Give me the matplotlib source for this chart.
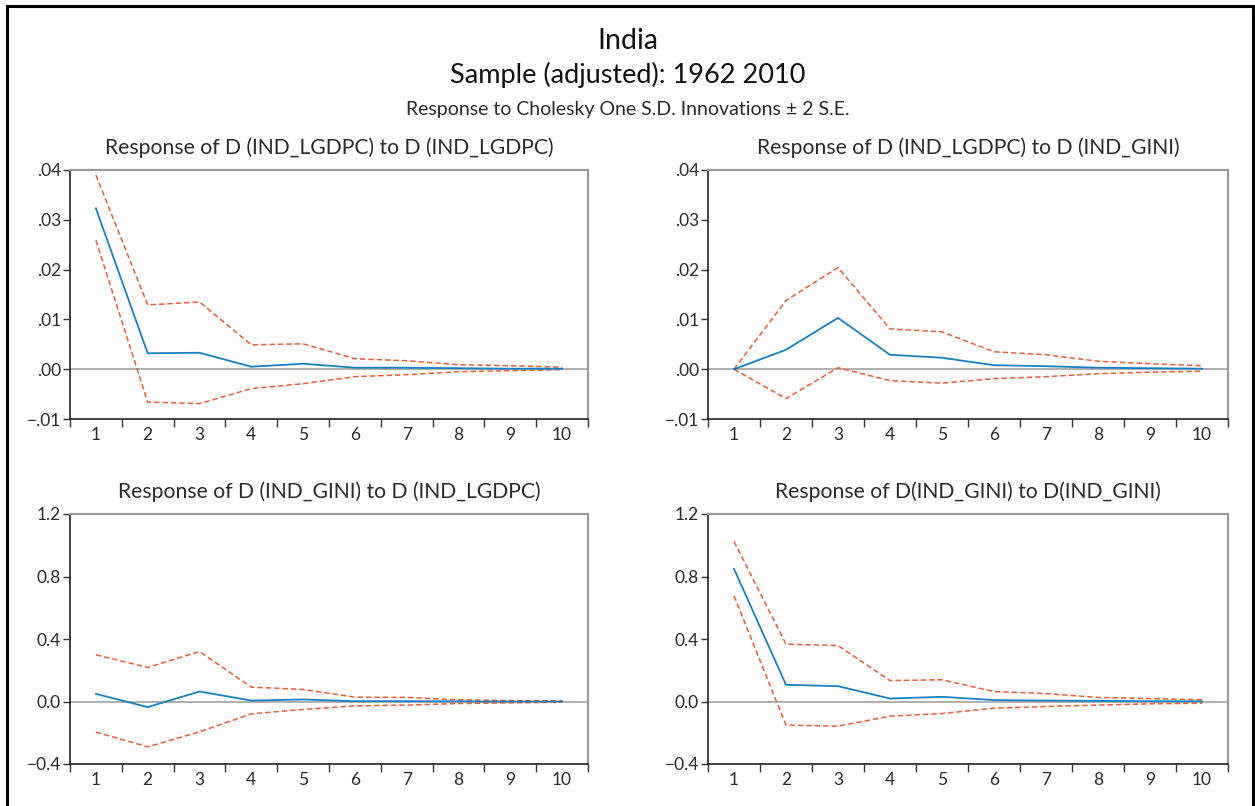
import matplotlib
matplotlib.use("Agg")
import matplotlib.pyplot as plt
from matplotlib.patches import Rectangle
from matplotlib.ticker import FixedLocator, FixedFormatter

plt.rcParams['font.family'] = ['Lato', 'DejaVu Sans']

periods = [1, 2, 3, 4, 5, 6, 7, 8, 9, 10]

# Panel 1: Response of D(IND_LGDPC) to D(IND_LGDPC)
p1_resp = [0.0323, 0.0032, 0.0033, 0.0005, 0.0011, 0.0003, 0.0003, 0.0002, 0.0001, 0.0001]
p1_upper = [0.0390, 0.0129, 0.0135, 0.0049, 0.0051, 0.0021, 0.0017, 0.0009, 0.0007, 0.0004]
p1_lower = [0.0259, -0.0066, -0.0069, -0.0039, -0.0029, -0.0015, -0.0011, -0.0005, -0.0003, -0.0001]

# Panel 2: Response of D(IND_LGDPC) to D(IND_GINI)
p2_resp = [0.0, 0.0039, 0.0103, 0.0029, 0.0023, 0.0008, 0.0006, 0.0003, 0.0002, 0.0001]
p2_upper = [0.0, 0.0138, 0.0204, 0.0081, 0.0075, 0.0035, 0.0029, 0.0016, 0.0011, 0.0007]
p2_lower = [0.0, -0.0059, 0.0003, -0.0023, -0.0028, -0.0019, -0.0015, -0.0009, -0.0006, -0.0004]

# Panel 3: Response of D(IND_GINI) to D(IND_LGDPC)
p3_resp = [0.049, -0.036, 0.064, 0.006, 0.013, 0.002, 0.002, 0.001, 0.0, 0.0]
p3_upper = [0.299, 0.218, 0.320, 0.092, 0.077, 0.028, 0.026, 0.011, 0.006, 0.004]
p3_lower = [-0.196, -0.290, -0.194, -0.079, -0.051, -0.028, -0.023, -0.013, -0.009, -0.004]

# Panel 4: Response of D(IND_GINI) to D(IND_GINI)
p4_resp = [0.849, 0.107, 0.098, 0.019, 0.030, 0.009, 0.006, 0.004, 0.002, 0.001]
p4_upper = [1.024, 0.367, 0.358, 0.134, 0.139, 0.064, 0.051, 0.026, 0.019, 0.011]
p4_lower = [0.676, -0.151, -0.158, -0.094, -0.077, -0.043, -0.032, -0.023, -0.015, -0.011]

titles = [
    "Response of D (IND_LGDPC) to D (IND_LGDPC)",
    "Response of D (IND_LGDPC) to D (IND_GINI)",
    "Response of D (IND_GINI) to D (IND_LGDPC)",
    "Response of D(IND_GINI) to D(IND_GINI)",
]

yticks_top = [-0.01, 0.00, 0.01, 0.02, 0.03, 0.04]
ylabels_top = ["\u2212.01", ".00", ".01", ".02", ".03", ".04"]
yticks_bot = [-0.4, 0.0, 0.4, 0.8, 1.2]
ylabels_bot = ["\u22120.4", "0.0", "0.4", "0.8", "1.2"]

W, H = 1255, 806
fig = plt.figure(figsize=(W / 100, H / 100), dpi=100)

BLUE = "#1580c4"
RED = "#f05a32"
GRAY = "#9a9a9a"
TXT = "#2a2a2a"

def px_axes(l, r, t, b):
    return fig.add_axes([l / W, 1 - b / H, (r - l) / W, (b - t) / H])

boxes = [
    (70, 588, 170, 419),
    (708, 1228, 170, 419),
    (70, 588, 514, 764),
    (708, 1228, 514, 764),
]
data = [
    (p1_resp, p1_upper, p1_lower, yticks_top, ylabels_top),
    (p2_resp, p2_upper, p2_lower, yticks_top, ylabels_top),
    (p3_resp, p3_upper, p3_lower, yticks_bot, ylabels_bot),
    (p4_resp, p4_upper, p4_lower, yticks_bot, ylabels_bot),
]

for (l, r, t, b), (resp, up, lo, yt, yl), title in zip(boxes, data, titles):
    ax = px_axes(l, r, t, b)
    ax.axhline(0, color=GRAY, lw=1.1, zorder=1)
    ax.plot(periods, up, color=RED, lw=1.1, ls=(0, (3.5, 2)), zorder=2)
    ax.plot(periods, lo, color=RED, lw=1.1, ls=(0, (3.5, 2)), zorder=2)
    ax.plot(periods, resp, color=BLUE, lw=1.3, zorder=3)
    ax.set_xlim(0.5, 10.5)
    ax.set_ylim(yt[0], yt[-1])
    ax.set_yticks(yt)
    ax.set_yticklabels(yl)
    ax.xaxis.set_major_locator(FixedLocator([p + 0.5 for p in [0] + periods]))
    ax.xaxis.set_major_formatter(FixedFormatter([]))
    ax.xaxis.set_minor_locator(FixedLocator(periods))
    ax.xaxis.set_minor_formatter(FixedFormatter([str(p) for p in periods]))
    ax.tick_params(axis='x', which='major', direction='out', length=6, width=1, color='#333333')
    ax.tick_params(axis='x', which='minor', length=0, pad=6, labelsize=12.5, labelcolor=TXT)
    ax.tick_params(axis='y', direction='out', length=5, width=1, color='#333333',
                   labelsize=12.5, labelcolor=TXT, pad=1.5)
    for s in ('left', 'bottom'):
        ax.spines[s].set_color('#222222')
        ax.spines[s].set_linewidth(1.2)
    for s in ('top', 'right'):
        ax.spines[s].set_color(GRAY)
        ax.spines[s].set_linewidth(1.6)
    fig.text((l + r) / 2 / W, 1 - (t - 22) / H, title, ha='center', va='center',
             fontsize=15.2, color=TXT)

fig.text(0.5, 1 - 41 / H, "India", ha='center', va='center', fontsize=20.5, color='#111111')
fig.text(0.5, 1 - 75 / H, "Sample (adjusted): 1962 2010", ha='center', va='center',
         fontsize=19.5, color='#111111')
fig.text(0.5, 1 - 110 / H, "Response to Cholesky One S.D. Innovations \u00b1 2 S.E.",
         ha='center', va='center', fontsize=14, color=TXT)

# outer frame
fig.patches.append(Rectangle((7 / W, -0.01), (1253 - 7) / W, 1 - 6 / H + 0.01,
                             transform=fig.transFigure, fill=False, edgecolor='black',
                             linewidth=2.2))

fig.savefig("out.png", dpi=100)
